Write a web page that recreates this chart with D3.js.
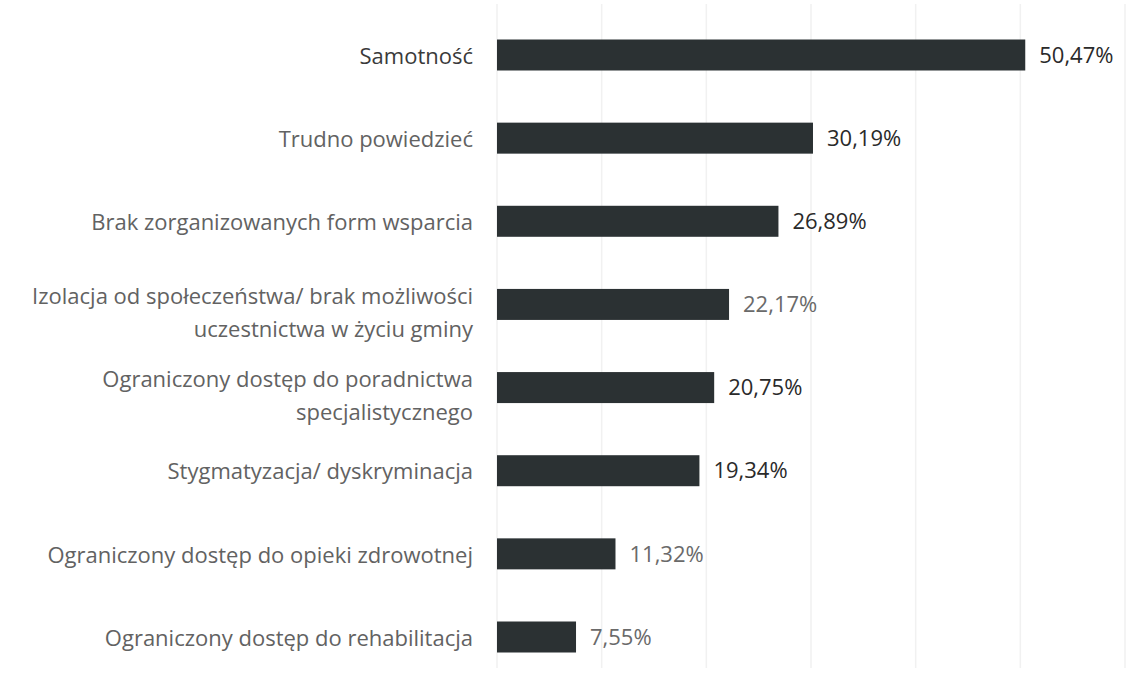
<!DOCTYPE html>
<meta charset='utf-8'>
<style>
  body { margin: 0; background: #fff; }
  text { font-family: 'Open Sans', Lato, sans-serif; }
  .grid line { stroke: #f1f1f1; stroke-width: 1.5; }
</style>
<svg width='1146' height='673'></svg>
<script src="https://d3js.org/d3.v7.min.js"></script>
<script>
  // data
  var categories = [
    ['Samotność'],
    ['Trudno powiedzieć'],
    ['Brak zorganizowanych form wsparcia'],
    ['Izolacja od społeczeństwa/ brak możliwości', 'uczestnictwa w życiu gminy'],
    ['Ograniczony dostęp do poradnictwa', 'specjalistycznego'],
    ['Stygmatyzacja/ dyskryminacja'],
    ['Ograniczony dostęp do opieki zdrowotnej'],
    ['Ograniczony dostęp do rehabilitacja']
  ];
  var values = [50.47, 30.19, 26.89, 22.17, 20.75, 19.34, 11.32, 7.55];
  var valueLabels = ['50,47%', '30,19%', '26,89%', '22,17%', '20,75%', '19,34%', '11,32%', '7,55%'];
  var gridTicks = [0, 10, 20, 30, 40, 50, 60];

  var svg = d3.select('svg'),
    width = +svg.attr('width'),
    height = +svg.attr('height'),
    fontSize = 22,
    barH = 31;

  // the scan prints some labels darker than others
  var darkValue = [true, true, true, false, true, true, false, false];
  var darkLabel = [true, false, false, false, false, false, false, false];

  var x = d3.scaleLinear().domain([0, 60]).range([497, 1125]);
  var y = d3.scalePoint().domain(d3.range(categories.length)).range([55, 637]);

  // gridlines
  svg.append('g').attr('class', 'grid')
    .selectAll('line').data(gridTicks).enter().append('line')
    .attr('x1', function(d) { return x(d); })
    .attr('x2', function(d) { return x(d); })
    .attr('y1', 4)
    .attr('y2', 668);

  // bars
  svg.append('g').selectAll('rect').data(values).enter().append('rect')
    .attr('x', x(0))
    .attr('y', function(d, i) { return y(i) - barH / 2; })
    .attr('width', function(d) { return x(d) - x(0); })
    .attr('height', barH)
    .attr('fill', '#2b3133');

  // category labels
  var labels = svg.append('g').selectAll('text').data(categories).enter().append('text')
    .attr('text-anchor', 'end')
    .attr('x', x(0) - 24)
    .attr('y', function(d, i) { return d.length > 1 ? y(i) - 8 : y(i) + 1; })
    .attr('font-size', fontSize)
    .attr('fill', function(d, i) { return darkLabel[i] ? '#3a3a3a' : '#626262'; });

  labels.each(function(d, i) {
    var t = d3.select(this);
    d.forEach(function(line, k) {
      t.append('tspan')
        .attr('x', x(0) - 24)
        .attr('dy', k === 0 ? '0.35em' : '1.5em')
        .text(line);
    });
  });

  // value labels
  svg.append('g').selectAll('text').data(values).enter().append('text')
    .attr('x', function(d) { return x(d) + 14; })
    .attr('y', function(d, i) { return y(i); })
    .attr('dy', '0.35em')
    .attr('font-size', fontSize)
    .attr('fill', function(d, i) { return darkValue[i] ? '#2a2a2a' : '#6a6a6a'; })
    .text(function(d, i) { return valueLabels[i]; });
</script>
